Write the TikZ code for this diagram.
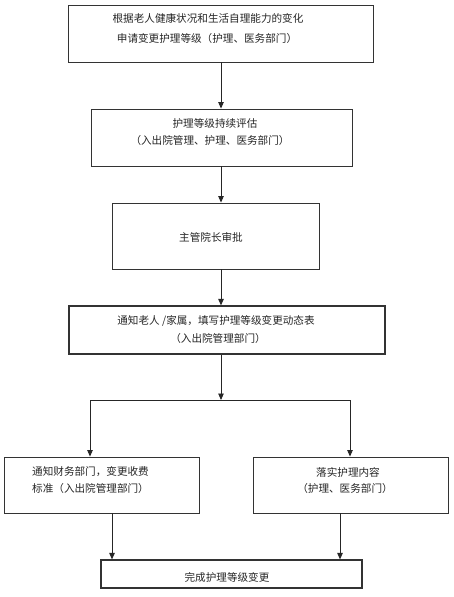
\documentclass[tikz,border=0pt]{standalone}
\usepackage{fontspec}
\setmainfont{Noto Sans CJK SC}
\usetikzlibrary{arrows.meta}
\begin{document}
\begin{tikzpicture}[x=1pt,y=-1pt,
  box/.style={draw=black!80, line width=0.9pt, inner sep=0pt},
  tbox/.style={box, line width=1.2pt},
  txt/.style={inner sep=0pt, font=\fontsize{10.6}{12}\selectfont, text=black!85},
  arr/.style={draw=black!85, line width=0.9pt, -{Triangle[width=5.5pt,length=6.5pt]}}]
\useasboundingbox (0,0) rectangle (454,597);
\fill[white] (0,0) rectangle (454,597);
% boxes
\node[box, minimum width=305pt, minimum height=57pt] (b1) at (220.5,33.5) {};
\node[box, minimum width=261pt, minimum height=57pt] (b2) at (221.5,137.5) {};
\node[box, minimum width=207pt, minimum height=66pt] (b3) at (215.5,236) {};
\node[tbox, minimum width=316pt, minimum height=48pt] (b4) at (227,330) {};
\node[box, minimum width=195pt, minimum height=56pt] (b5) at (101.5,485) {};
\node[box, minimum width=195pt, minimum height=56pt] (b6) at (350.5,485) {};
\node[tbox, minimum width=261pt, minimum height=28pt] (b7) at (231.5,574) {};
% texts
\node[txt] (t1a) at (208,18) {根据老人健康状况和生活自理能力的变化};
\node[txt] (t1b) at (207,38) {申请变更护理等级（护理、医务部门）};
\node[txt] (t2a) at (215,123) {护理等级持续评估};
\node[txt] (t2b) at (210,140) {（入出院管理、护理、医务部门）};
\node[txt] (t3) at (211,237) {主管院长审批};
\node[txt] (t4a) at (216,321) {通知老人 /家属，填写护理等级变更动态表};
\node[txt] (t4b) at (218,338) {（入出院管理部门）};
\node[txt, anchor=west] (t5a) at (32,472) {通知财务部门，变更收费};
\node[txt, anchor=west] (t5b) at (32,488) {标准（入出院管理部门）};
\node[txt] (t6a) at (348,472) {落实护理内容};
\node[txt] (t6b) at (345,488) {（护理、医务部门）};
\node[txt] (t7) at (227,577) {完成护理等级变更};
% connectors
\coordinate (j) at (221,400);
\draw[arr] ([xshift=0.5pt]b1.south) -- ([xshift=0.5pt]b1.south |- b2.north);
\draw[arr] ([xshift=-0.5pt]b2.south) -- ([xshift=-0.5pt]b2.south |- b3.north);
\draw[arr] ([xshift=5.5pt]b3.south) -- ([xshift=5.5pt]b3.south |- b4.north);
\draw[arr] ([xshift=-6pt]b4.south) -- (j);
\draw[arr] (j) -| ([xshift=-11.5pt]b5.north);
\draw[arr] (j) -| ([xshift=-0.5pt]b6.north);
\draw[arr] ([xshift=10.5pt]b5.south) -- ([xshift=10.5pt]b5.south |- b7.north);
\draw[arr] ([xshift=-10.5pt]b6.south) -- ([xshift=-10.5pt]b6.south |- b7.north);
\end{tikzpicture}
\end{document}
